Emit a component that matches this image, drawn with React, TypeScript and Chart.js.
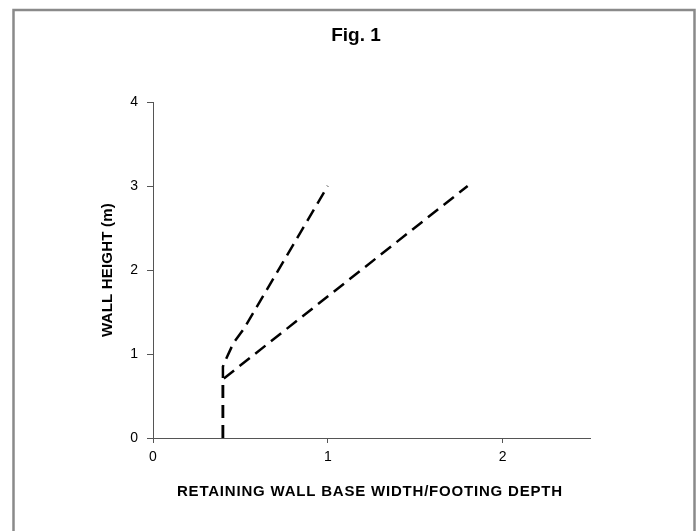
import React, { useEffect, useRef } from "react";
import { Chart, registerables } from "chart.js";

Chart.register(...registerables);

const titleText = "Fig. 1";
const xAxisTitle = "RETAINING WALL BASE WIDTH/FOOTING DEPTH";
const yAxisTitle = "WALL HEIGHT (m)";
const xTicks = [0, 1, 2];
const yTicks = [0, 1, 2, 3, 4];
const line1X = [0.4, 0.4, 0.42, 0.46, 0.52, 1.0];
const line1Y = [0, 0.85, 0.95, 1.13, 1.3, 3.0];
const line2X = [0.4, 0.4, 1.8];
const line2Y = [0, 0.7, 3.0];

const FONT = '"Liberation Sans", Arial, sans-serif';
const AXIS_COLOR = "#555555";

const decorPlugin = {
  id: "decor",
  afterDraw(chart: any) {
    const ctx = chart.ctx as CanvasRenderingContext2D;
    const area = chart.chartArea;
    ctx.save();
    // outer frame
    ctx.strokeStyle = "#8a8a8a";
    ctx.lineWidth = 2.5;
    ctx.beginPath();
    ctx.moveTo(13.5, 540);
    ctx.lineTo(13.5, 10);
    ctx.lineTo(694.5, 10);
    ctx.lineTo(694.5, 540);
    ctx.stroke();

    ctx.fillStyle = "#000";
    ctx.textAlign = "center";
    ctx.textBaseline = "middle";
    // title
    ctx.font = `bold 19px ${FONT}`;
    ctx.fillText(titleText, 356, 36);
    // x axis title
    ctx.font = `bold 15px ${FONT}`;
    (ctx as any).letterSpacing = "0.8px";
    ctx.fillText(xAxisTitle, (area.left + area.right) / 2 - 2 + 0.4, 492);
    (ctx as any).letterSpacing = "0.2px";
    // y axis title
    ctx.translate(108, (area.top + area.bottom) / 2);
    ctx.rotate(-Math.PI / 2);
    ctx.fillText(yAxisTitle, 0, 0);
    ctx.restore();
  },
};

export default function App() {
  const canvasRef = useRef<HTMLCanvasElement | null>(null);

  useEffect(() => {
    if (!canvasRef.current) return;
    const chart = new Chart(canvasRef.current, {
      type: "line",
      data: {
        datasets: [
          {
            data: line1X.map((x, i) => ({ x, y: line1Y[i] })),
            borderColor: "#000",
            borderWidth: 2.5,
            borderDash: [13, 7],
            pointRadius: 0,
            tension: 0,
            fill: false,
          },
          {
            data: line2X.map((x, i) => ({ x, y: line2Y[i] })),
            borderColor: "#000",
            borderWidth: 2.5,
            borderDash: [13, 7],
            pointRadius: 0,
            tension: 0,
            fill: false,
          },
        ],
      },
      options: {
        animation: false,
        responsive: false,
        devicePixelRatio: 1,
        layout: { padding: { top: 102, right: 110, left: 0, bottom: 0 } },
        plugins: {
          legend: { display: false },
          tooltip: { enabled: false },
          title: { display: false },
        },
        scales: {
          x: {
            type: "linear",
            min: 0,
            max: 2.5,
            afterBuildTicks: (scale: any) => {
              scale.ticks = xTicks.map((v) => ({ value: v }));
            },
            afterFit: (scale: any) => {
              scale.height = 93;
            },
            grid: {
              display: true,
              drawOnChartArea: false,
              drawTicks: true,
              tickLength: 5,
              color: AXIS_COLOR,
            },
            border: { color: AXIS_COLOR, width: 1 },
            ticks: {
              color: "#000",
              font: { family: FONT, size: 14 },
              padding: 6,
              maxRotation: 0,
            },
          },
          y: {
            type: "linear",
            min: 0,
            max: 4,
            afterBuildTicks: (scale: any) => {
              scale.ticks = yTicks.map((v) => ({ value: v }));
            },
            afterFit: (scale: any) => {
              scale.width = 153;
            },
            grid: {
              display: true,
              drawOnChartArea: false,
              drawTicks: true,
              tickLength: 6,
              color: AXIS_COLOR,
            },
            border: { color: AXIS_COLOR, width: 1 },
            ticks: {
              color: "#000",
              font: { family: FONT, size: 14 },
              padding: 9,
            },
          },
        },
      },
      plugins: [decorPlugin],
    } as any);
    return () => chart.destroy();
  }, []);

  return (
    <div
      style={{
        position: "fixed",
        left: 0,
        top: 0,
        width: 700,
        height: 531,
        background: "#fff",
        overflow: "hidden",
      }}
    >
      <canvas ref={canvasRef} width={700} height={531} style={{ display: "block" }} />
    </div>
  );
}
